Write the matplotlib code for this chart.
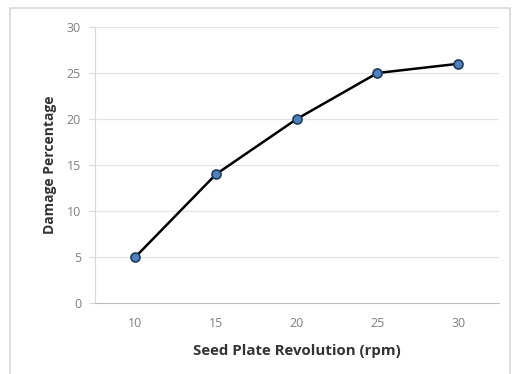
import matplotlib
matplotlib.use("Agg")
import matplotlib.pyplot as plt
from matplotlib.patches import Rectangle

rpm = [10, 15, 20, 25, 30]
damage = [5, 14, 20, 25, 26]
yticks = [0, 5, 10, 15, 20, 25, 30]

plt.rcParams['font.family'] = ['Open Sans', 'DejaVu Sans']

fig = plt.figure(figsize=(5.15, 3.74), dpi=100)
fig.patches.append(Rectangle((10/515, -0.05), 500/515, 1.05 - 8/374, transform=fig.transFigure,
                             fill=False, edgecolor='#d9d9d9', linewidth=1.2))
ax = fig.add_axes([95/515, 71/374, 403.5/515, 276/374])
ax.plot(rpm, damage, color='black', linewidth=1.8, marker='o', markersize=6.5,
        markerfacecolor='#4f81bd', markeredgecolor='#1f3a5f', markeredgewidth=1.2, zorder=3)
ax.set_xlim(7.5, 32.5)
ax.set_ylim(0, 30)
ax.set_xticks(rpm)
ax.set_yticks(yticks)
ax.grid(axis='y', color='#e3e3e3', linewidth=0.9)
ax.set_axisbelow(True)
for s in ['top', 'right']:
    ax.spines[s].set_visible(False)
ax.spines['left'].set_color('#d9d9d9')
ax.spines['bottom'].set_color('#bfbfbf')
ax.tick_params(axis='both', colors='#7f7f7f', labelsize=9, length=0, pad=10)
ax.tick_params(axis='y', length=4, color='#d9d9d9', pad=6)
ax.set_xlabel('Seed Plate Revolution (rpm)', fontsize=10.8, fontweight='bold', color='#333333', labelpad=10)
ax.set_ylabel('Damage Percentage', fontsize=10, fontweight='bold', color='#333333', labelpad=7)
fig.savefig('out.png', dpi=100)
